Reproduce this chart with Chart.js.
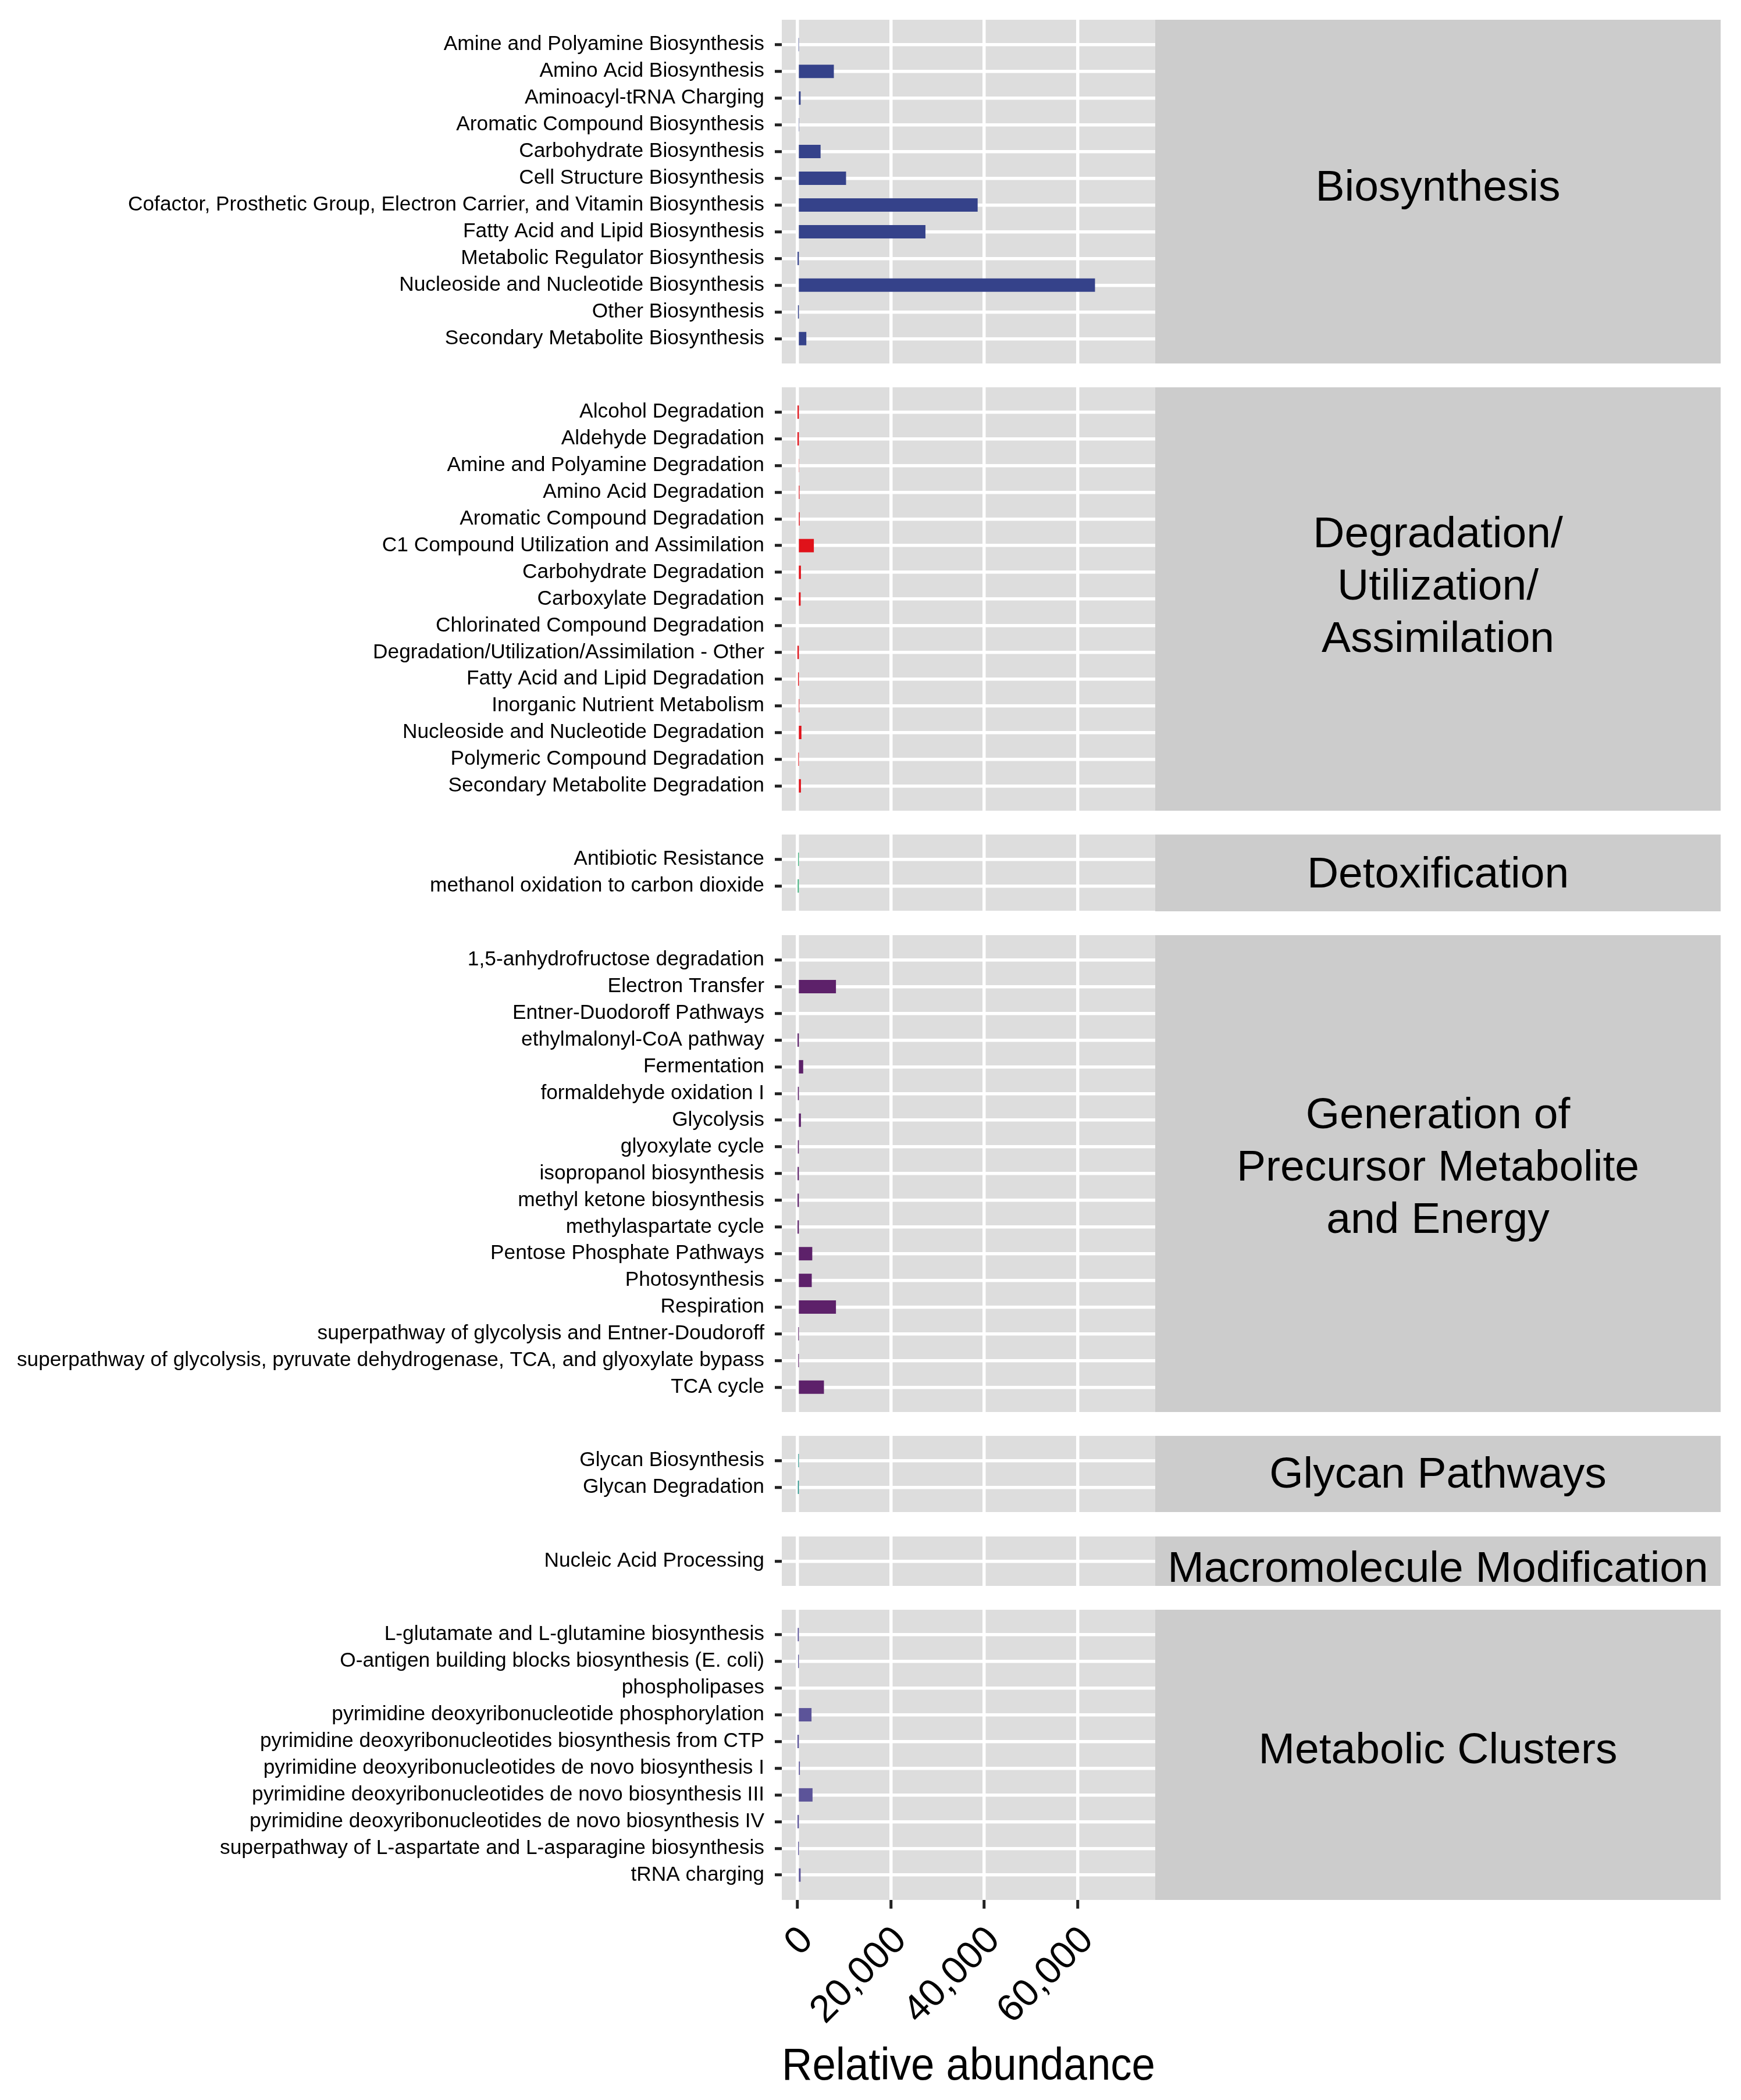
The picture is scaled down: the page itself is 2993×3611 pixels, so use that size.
<!DOCTYPE html>
<html><head><meta charset="utf-8">
<script src="https://cdn.jsdelivr.net/npm/chart.js@4.4.1/dist/chart.umd.min.js"></script>
<style>
html,body{margin:0;padding:0;background:#fff;}
#wrap{position:relative;width:2993px;height:3611px;overflow:hidden;background:#fff;}
#wrap canvas{position:absolute;left:0;}
.strip{position:absolute;background:#cccccc;display:flex;align-items:center;justify-content:center;text-align:center;font-family:'Liberation Sans',Arial,sans-serif;font-size:75px;line-height:90px;color:#000;white-space:pre;overflow:hidden;}
.strip span{position:relative;}
</style></head><body><div id="wrap"></div>
<script>
// ---------------- data ----------------
const stripLabels = ['Biosynthesis', 'Degradation/\nUtilization/\nAssimilation', 'Detoxification',
  'Generation of\nPrecursor Metabolite\nand Energy', 'Glycan Pathways', 'Macromolecule Modification', 'Metabolic Clusters'];

const bioCats = ['Amine and Polyamine Biosynthesis','Amino Acid Biosynthesis','Aminoacyl-tRNA Charging',
  'Aromatic Compound Biosynthesis','Carbohydrate Biosynthesis','Cell Structure Biosynthesis',
  'Cofactor, Prosthetic Group, Electron Carrier, and Vitamin Biosynthesis','Fatty Acid and Lipid Biosynthesis',
  'Metabolic Regulator Biosynthesis','Nucleoside and Nucleotide Biosynthesis','Other Biosynthesis',
  'Secondary Metabolite Biosynthesis'];
const bioVals = [260, 7830, 720, 400, 4990, 10440, 38600, 27430, 60, 63710, 150, 1940];

const degCats = ['Alcohol Degradation','Aldehyde Degradation','Amine and Polyamine Degradation','Amino Acid Degradation',
  'Aromatic Compound Degradation','C1 Compound Utilization and Assimilation','Carbohydrate Degradation',
  'Carboxylate Degradation','Chlorinated Compound Degradation','Degradation/Utilization/Assimilation - Other',
  'Fatty Acid and Lipid Degradation','Inorganic Nutrient Metabolism','Nucleoside and Nucleotide Degradation',
  'Polymeric Compound Degradation','Secondary Metabolite Degradation'];
const degVals = [50, 40, 300, 480, 520, 3550, 780, 720, 0, 40, 170, 450, 890, 220, 780];

const detoxCats = ['Antibiotic Resistance','methanol oxidation to carbon dioxide'];
const detoxVals = [170, 90];

const genCats = ['1,5-anhydrofructose degradation','Electron Transfer','Entner-Duodoroff Pathways',
  'ethylmalonyl-CoA pathway','Fermentation','formaldehyde oxidation I','Glycolysis','glyoxylate cycle',
  'isopropanol biosynthesis','methyl ketone biosynthesis','methylaspartate cycle','Pentose Phosphate Pathways',
  'Photosynthesis','Respiration','superpathway of glycolysis and Entner-Doudoroff',
  'superpathway of glycolysis, pyruvate dehydrogenase, TCA, and glyoxylate bypass','TCA cycle'];
const genVals = [0, 8280, 0, 60, 1270, 130, 780, 130, 70, 60, 60, 3210, 3100, 8280, 210, 210, 5710];

const glycanCats = ['Glycan Biosynthesis','Glycan Degradation'];
const glycanVals = [210, 130];

const macroCats = ['Nucleic Acid Processing'];
const macroVals = [340];

const clusterCats = ['L-glutamate and L-glutamine biosynthesis','O-antigen building blocks biosynthesis (E. coli)',
  'phospholipases','pyrimidine deoxyribonucleotide phosphorylation',
  'pyrimidine deoxyribonucleotides biosynthesis from CTP','pyrimidine deoxyribonucleotides de novo biosynthesis I',
  'pyrimidine deoxyribonucleotides de novo biosynthesis III','pyrimidine deoxyribonucleotides de novo biosynthesis IV',
  'superpathway of L-aspartate and L-asparagine biosynthesis','tRNA charging'];
const clusterVals = [100, 180, 0, 3050, 40, 560, 3270, 50, 180, 720];

const xTickValues = [0, 20000, 40000, 60000];
const xTickLabels = ['0', '20,000', '40,000', '60,000'];
const xAxisTitle = 'Relative abundance';

// ---------------- styling / layout ----------------
const panelColors = ['#35428A', '#E0121A', '#43B27F', '#5D216A', '#1F8F86', '#B2182B', '#5C5499'];
const stripShift = [-10, -25, -1, -14, -3, 10, -12];
const FONT = "'Liberation Sans', Arial, sans-serif";
const PLOT_LEFT = 1344, PLOT_RIGHT = 1986, STRIP_RIGHT = 2958;
const UNIT = 45.92, PAD = 0.93, GAP = 41.2, TOP0 = 34, PAGE_H = 3611;
const X_MIN = -3310, X_MAX = 76600, BAR_T = 23;

const panels = [
  {cats: bioCats, vals: bioVals}, {cats: degCats, vals: degVals}, {cats: detoxCats, vals: detoxVals},
  {cats: genCats, vals: genVals}, {cats: glycanCats, vals: glycanVals}, {cats: macroCats, vals: macroVals},
  {cats: clusterCats, vals: clusterVals}
];

const bgPlugin = {
  id: 'panelBg',
  beforeDraw(chart) {
    const a = chart.chartArea, ctx = chart.ctx;
    ctx.save(); ctx.fillStyle = '#dddddd';
    ctx.fillRect(a.left, a.top, a.right - a.left, a.bottom - a.top);
    ctx.restore();
  }
};

const wrap = document.getElementById('wrap');
let curTop = TOP0;
panels.forEach((p, idx) => {
  const n = p.cats.length;
  const h = (n - 1 + 2 * PAD) * UNIT;
  const isLast = idx === panels.length - 1;
  const axisH = isLast ? PAGE_H - (curTop + h) : 0;

  const c = document.createElement('canvas');
  c.width = PLOT_RIGHT; c.height = Math.round(h + axisH);
  c.style.top = curTop + 'px';
  c.style.width = PLOT_RIGHT + 'px'; c.style.height = Math.round(h + axisH) + 'px';
  wrap.appendChild(c);

  const s = document.createElement('div');
  s.className = 'strip';
  s.style.left = PLOT_RIGHT + 'px'; s.style.width = (STRIP_RIGHT - PLOT_RIGHT) + 'px';
  s.style.top = curTop + 'px'; s.style.height = h + 'px';
  const sp = document.createElement('span');
  sp.textContent = stripLabels[idx];
  sp.style.top = stripShift[idx] + 'px';
  s.appendChild(sp);
  wrap.appendChild(s);

  new Chart(c, {
    type: 'bar',
    data: { datasets: [{ data: p.vals.map((v, i) => ({x: v, y: i})), backgroundColor: panelColors[idx],
      borderWidth: 0, inflateAmount: 0, barThickness: BAR_T }] },
    options: {
      indexAxis: 'y', responsive: false, animation: false, devicePixelRatio: 1,
      layout: {padding: 0},
      plugins: {legend: {display: false}, tooltip: {enabled: false}, title: {display: false}},
      scales: {
        y: {
          type: 'linear', reverse: true, min: -PAD, max: n - 1 + PAD, offset: false,
          afterBuildTicks: sc => { sc.ticks = p.cats.map((_, i) => ({value: i})); },
          afterFit: sc => { sc.width = PLOT_LEFT; sc.paddingTop = 0; sc.paddingBottom = 0; sc.paddingLeft = 0; sc.paddingRight = 0; },
          ticks: { autoSkip: false, padding: 18, color: '#000', font: {family: FONT, size: 35.3, lineHeight: 1},
            callback: v => p.cats[v] },
          grid: { color: '#ffffff', lineWidth: 5.5, offset: false, drawTicks: true, tickLength: 12,
            tickColor: '#222222', tickWidth: 5 },
          border: {display: false}
        },
        x: {
          type: 'linear', min: X_MIN, max: X_MAX, offset: false,
          afterBuildTicks: sc => { sc.ticks = xTickValues.map(v => ({value: v})); },
          afterFit: sc => { sc.height = axisH; sc.paddingTop = 0; sc.paddingBottom = 0; sc.paddingLeft = 0; sc.paddingRight = 0; },
          ticks: { display: isLast, autoSkip: false, minRotation: 45, maxRotation: 45, padding: 16, labelOffset: 17,
            color: '#000', font: {family: FONT, size: 66},
            callback: v => xTickLabels[xTickValues.indexOf(v)] },
          grid: { color: '#ffffff', lineWidth: 5.5, offset: false, drawTicks: isLast, tickLength: 15,
            tickColor: '#222222', tickWidth: 5 },
          border: {display: false},
          title: { display: isLast, text: xAxisTitle, color: '#000', font: {family: FONT, size: 78},
            padding: {top: 0, bottom: 10} }
        }
      }
    },
    plugins: [bgPlugin]
  });
  curTop += h + GAP;
});
</script></body></html>
